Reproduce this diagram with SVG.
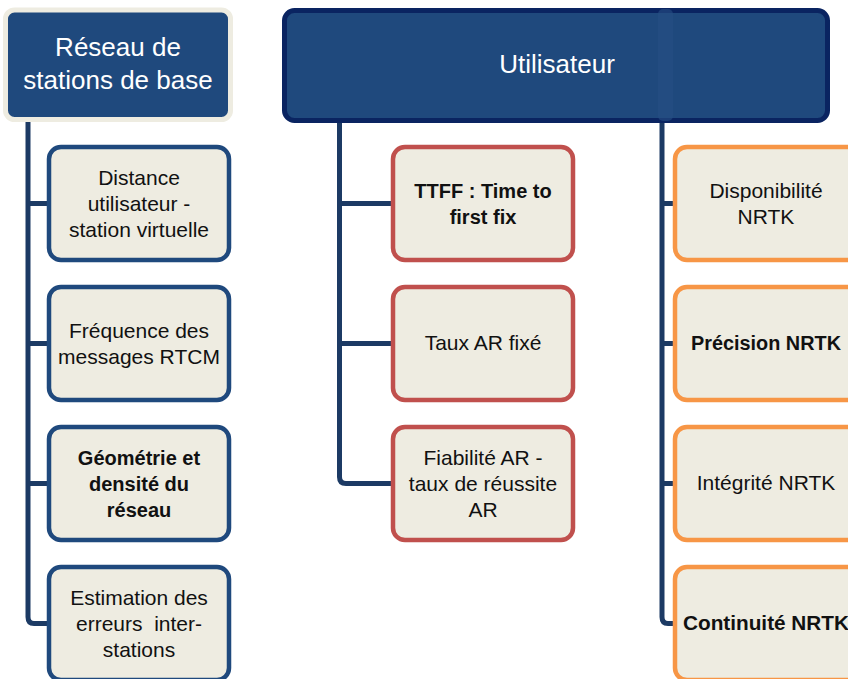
<svg xmlns="http://www.w3.org/2000/svg" width="848" height="679" viewBox="0 0 848 679">
<style>
.t{font-family:"Liberation Sans",Arial,sans-serif;font-size:21px;fill:#111;text-anchor:middle}
.b{font-weight:bold;font-size:20px}
.h{font-family:"Liberation Sans",Arial,sans-serif;font-size:26px;fill:#fff;text-anchor:middle}
.box{fill:#eeece1;stroke-width:4.5}
.blue{stroke:#1f497d}
.red{stroke:#c0504d}
.org{stroke:#f79646}
.con{fill:none;stroke:#1c3a64;stroke-width:5;stroke-linejoin:round}
</style>
<rect width="848" height="679" fill="#fff"/>
<g id="connectors">
<path class="con" d="M28,117 V617 Q28,623.5 34,623.5 H49 M28,203.5 H49 M28,343.5 H49 M28,483.5 H49"/>
<path class="con" d="M339.5,123 V477 Q339.5,483.5 346,483.5 H393 M339.5,203.5 H393 M339.5,343.5 H393"/>
<path class="con" d="M662,123 V617 Q662,623.5 668,623.5 H675 M662,203.5 H675 M662,343.5 H675 M662,483.5 H675"/>
</g>
<g id="reseau">
<rect x="5.5" y="10" width="225" height="109.5" rx="9" fill="#1f497d" stroke="#eeece1" stroke-width="5"/>
<text class="h" x="118" y="56">Réseau de</text>
<text class="h" x="118" y="89">stations de base</text>
</g>
<g id="utilisateur">
<rect x="284.5" y="10.5" width="543" height="110" rx="10" fill="#1f497d" stroke="#0a2461" stroke-width="5"/>
<rect x="658" y="9" width="15" height="112" rx="5" fill="#264f84" opacity="0.6"/>
<text class="h" x="557" y="73">Utilisateur</text>
</g>
<g id="distance">
<rect class="box blue" x="49" y="147" width="180" height="113" rx="12"/>
<text class="t" x="139" y="185">Distance</text>
<text class="t" x="139" y="211">utilisateur -</text>
<text class="t" x="139" y="237">station virtuelle</text>
</g>
<g id="frequence">
<rect class="box blue" x="49" y="287" width="180" height="113" rx="12"/>
<text class="t" x="139" y="338">Fréquence des</text>
<text class="t" x="139" y="364">messages RTCM</text>
</g>
<g id="geometrie">
<rect class="box blue" x="49" y="427" width="180" height="113" rx="12"/>
<text class="t b" x="139" y="465">Géométrie et</text>
<text class="t b" x="139" y="491">densité du</text>
<text class="t b" x="139" y="517">réseau</text>
</g>
<g id="estimation">
<rect class="box blue" x="49" y="567" width="180" height="113" rx="12"/>
<text class="t" x="139" y="605">Estimation des</text>
<text class="t" x="139" y="631" xml:space="preserve" style="white-space:pre">erreurs  inter-</text>
<text class="t" x="139" y="657">stations</text>
</g>
<g id="ttff">
<rect class="box red" x="393" y="147" width="180" height="113" rx="12"/>
<text class="t b" x="483" y="198">TTFF : Time to</text>
<text class="t b" x="483" y="224">first fix</text>
</g>
<g id="taux">
<rect class="box red" x="393" y="287" width="180" height="113" rx="12"/>
<text class="t" x="483" y="350">Taux AR fixé</text>
</g>
<g id="fiabilite">
<rect class="box red" x="393" y="427" width="180" height="113" rx="12"/>
<text class="t" x="483" y="465">Fiabilité AR -</text>
<text class="t" x="483" y="491">taux de réussite</text>
<text class="t" x="483" y="517">AR</text>
</g>
<g id="disponibilite">
<rect class="box org" x="675" y="147" width="185" height="113" rx="12"/>
<text class="t" x="766" y="198">Disponibilité</text>
<text class="t" x="766" y="224">NRTK</text>
</g>
<g id="precision">
<rect class="box org" x="675" y="287" width="185" height="113" rx="12"/>
<text class="t b" x="766" y="350" textLength="150" lengthAdjust="spacingAndGlyphs">Précision NRTK</text>
</g>
<g id="integrite">
<rect class="box org" x="675" y="427" width="185" height="113" rx="12"/>
<text class="t" x="766" y="490">Intégrité NRTK</text>
</g>
<g id="continuite">
<rect class="box org" x="675" y="567" width="185" height="113" rx="12"/>
<text class="t b" x="766" y="630" textLength="166" lengthAdjust="spacingAndGlyphs">Continuité NRTK</text>
</g>
</svg>
